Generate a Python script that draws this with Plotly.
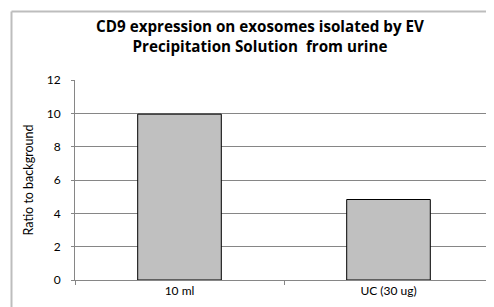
import plotly.graph_objects as go

categories = ["10 ml", "UC (30 ug)"]
values = [9.95, 4.83]
y_ticks = [0, 2, 4, 6, 8, 10, 12]
title_lines = ["CD9 expression on exosomes isolated by EV", "Precipitation Solution  from urine"]
y_title = "Ratio to background"

W, H = 494, 307
L, R, T, B = 67, 9, 72, 35
pw, ph = W - L - R, H - T - B

def px_x(p):
    return (p - L) / pw

def px_y(p):
    return (H - B - p) / ph

fig = go.Figure(go.Bar(
    x=categories, y=values,
    marker=dict(color="#c0c0c0", line=dict(color="#000000", width=1)),
))

fig.update_layout(
    width=W, height=H,
    margin=dict(l=L, r=R, t=T, b=B),
    paper_bgcolor="white", plot_bgcolor="white",
    bargap=0.6,
    showlegend=False,
    font=dict(family="Lato, Carlito, Calibri, sans-serif", size=12, color="#000000"),
    title=dict(
        text="<b>" + "<br>".join(title_lines) + "</b>",
        x=252 / W, xref="container", xanchor="center",
        y=1 - 24 / H, yref="container", yanchor="top",
        font=dict(size=15.2, family="Open Sans, sans-serif"),
    ),
    xaxis=dict(
        showline=True, linecolor="#868686", linewidth=1,
        ticks="outside", tickson="boundaries", ticklen=4, tickcolor="#868686",
        showgrid=False, tickfont=dict(size=12),
    ),
    yaxis=dict(
        range=[0, 12], tickvals=y_ticks, showline=True, linecolor="#868686", linewidth=1,
        ticks="outside", ticklen=3, tickcolor="#868686",
        showgrid=True, gridcolor="#868686", gridwidth=1, zeroline=False,
        tickfont=dict(size=12), ticklabelstandoff=8,
        title=dict(text=y_title, font=dict(size=12.5), standoff=10),
    ),
    shapes=[
        dict(type="line", xref="paper", yref="paper",
             x0=px_x(3.5), x1=px_x(3.5), y0=px_y(3.5), y1=px_y(H + 2),
             line=dict(color="#bdbdbd", width=2)),
        dict(type="line", xref="paper", yref="paper",
             x0=px_x(3.5), x1=px_x(W + 2), y0=px_y(3.5), y1=px_y(3.5),
             line=dict(color="#bdbdbd", width=2)),
    ],
)

fig.write_html("out.html")
